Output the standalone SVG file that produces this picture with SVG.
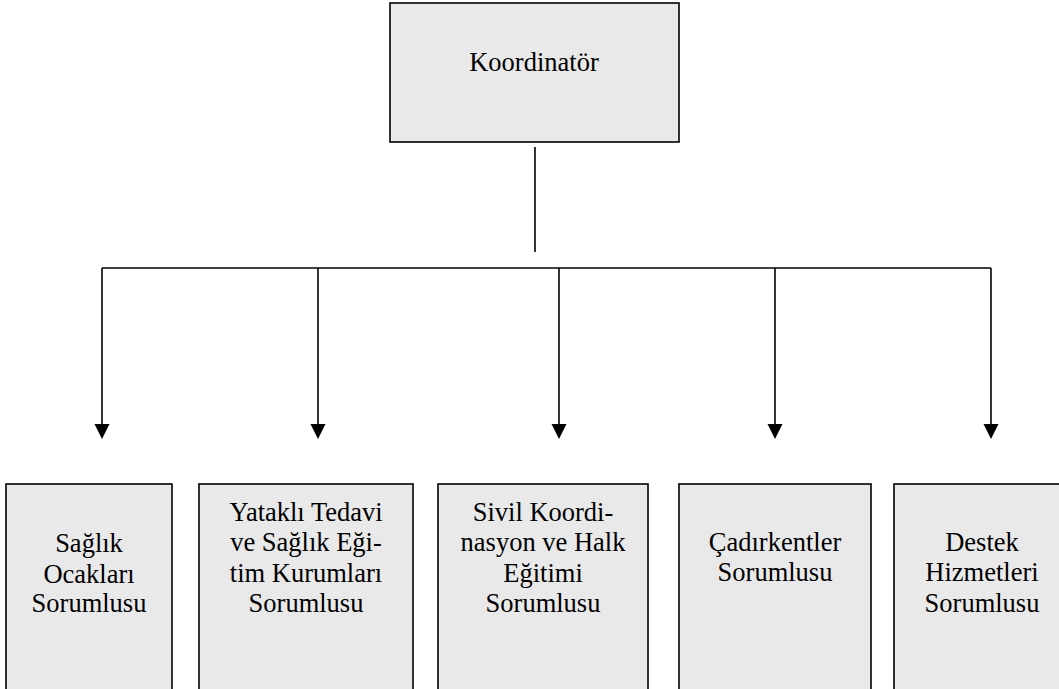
<svg xmlns="http://www.w3.org/2000/svg" width="1059" height="689" viewBox="0 0 1059 689">
<style>
.box{fill:#e9e9e9;stroke:#000;stroke-width:1.6}
.t{font-family:'Liberation Serif','Times New Roman',serif;font-size:26.5px;fill:#000;text-anchor:middle}
.ln{stroke:#000;stroke-width:1.6;fill:none}
.ah{fill:#000}
</style>
<rect width="1059" height="689" fill="#fff"/>
<g id="connectors">
<line class="ln" x1="535" y1="147" x2="535" y2="252"/>
<line class="ln" x1="102" y1="268" x2="991" y2="268"/>
<line class="ln" x1="102" y1="268" x2="102" y2="426"/>
<line class="ln" x1="318" y1="268" x2="318" y2="426"/>
<line class="ln" x1="559" y1="268" x2="559" y2="426"/>
<line class="ln" x1="775" y1="268" x2="775" y2="426"/>
<line class="ln" x1="991" y1="268" x2="991" y2="426"/>
<polygon class="ah" points="94.5,424 109.5,424 102,439"/>
<polygon class="ah" points="310.5,424 325.5,424 318,439"/>
<polygon class="ah" points="551.5,424 566.5,424 559,439"/>
<polygon class="ah" points="767.5,424 782.5,424 775,439"/>
<polygon class="ah" points="983.5,424 998.5,424 991,439"/>
</g>
<g id="koordinator">
<rect class="box" x="390" y="3" width="289" height="139"/>
<text class="t" x="534" y="71">Koordinatör</text>
</g>
<g id="saglik-ocaklari">
<rect class="box" x="6" y="484" width="166" height="220"/>
<text class="t" x="89" y="552">Sağlık</text>
<text class="t" x="89" y="582.5">Ocakları</text>
<text class="t" x="89" y="612">Sorumlusu</text>
</g>
<g id="yatakli-tedavi">
<rect class="box" x="199" y="484" width="214" height="220"/>
<text class="t" x="306" y="521">Yataklı Tedavi</text>
<text class="t" x="306" y="551">ve Sağlık Eği-</text>
<text class="t" x="306" y="581.5">tim Kurumları</text>
<text class="t" x="306" y="612">Sorumlusu</text>
</g>
<g id="sivil-koordinasyon">
<rect class="box" x="438" y="484" width="210" height="220"/>
<text class="t" x="543" y="521">Sivil Koordi-</text>
<text class="t" x="543" y="551">nasyon ve Halk</text>
<text class="t" x="543" y="581.5">Eğitimi</text>
<text class="t" x="543" y="612">Sorumlusu</text>
</g>
<g id="cadirkentler">
<rect class="box" x="679" y="484" width="192" height="220"/>
<text class="t" x="775" y="551">Çadırkentler</text>
<text class="t" x="775" y="581">Sorumlusu</text>
</g>
<g id="destek-hizmetleri">
<rect class="box" x="894" y="484" width="180" height="220"/>
<text class="t" x="982" y="551">Destek</text>
<text class="t" x="982" y="581">Hizmetleri</text>
<text class="t" x="982" y="612">Sorumlusu</text>
</g>
</svg>
